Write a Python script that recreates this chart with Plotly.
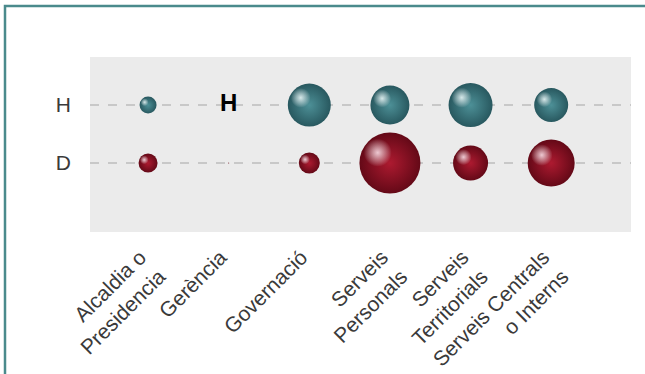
import plotly.graph_objects as go

# categories and values
categories = ['Alcaldia o<br>Presidencia', 'Gerència', 'Governació',
              'Serveis<br>Personals', 'Serveis<br>Territorials',
              'Serveis Centrals<br>o Interns']
rows = ['D', 'H']
size_h = [17, 0, 43, 39, 44, 34]
size_d = [19, 1, 21, 61, 35, 47]
label_h = ['', '<b>H</b>', '', '', '', '']

# figure geometry
W, H = 645, 374
ml, mr, mt, mb = 90, 14, 57, 142
xr = [-0.72, 5.99]
yr = [-1.19, 1.83]
px_x = (W - ml - mr) / (xr[1] - xr[0])
px_y = (H - mt - mb) / (yr[1] - yr[0])

teal = dict(edge='#28585f', body='#4d9097', hi='rgba(240,252,252,0.85)')
red = dict(edge='#640917', body='#ad1a30', hi='rgba(255,232,240,0.85)')


def sphere(xs, y, sizes, c):
    xi = list(range(len(xs)))
    base = go.Scatter(
        x=xi, y=[y] * len(xi), mode='markers', hoverinfo='skip',
        marker=dict(size=sizes, color=c['edge'], line=dict(width=0),
                    opacity=1,
                    gradient=dict(type='radial', color=c['body']))
    )
    # highlight shifted up-left, in pixels converted to axis units
    hx = [i - 0.2 * s / px_x for i, s in zip(xi, sizes)]
    hy = [y + 0.17 * s / px_y for s in sizes]
    hs = [0.46 * s for s in sizes]
    hi = go.Scatter(
        x=hx, y=hy, mode='markers', hoverinfo='skip',
        marker=dict(size=hs, color='rgba(255,255,255,0)', line=dict(width=0),
                    opacity=1,
                    gradient=dict(type='radial', color=c['hi']))
    )
    return [base, hi]


fig = go.Figure()
for t in sphere(categories, 1, size_h, teal):
    fig.add_trace(t)
for t in sphere(categories, 0, size_d, red):
    fig.add_trace(t)

fig.add_trace(go.Scatter(
    x=list(range(len(categories))), y=[1] * len(categories), mode='text',
    text=label_h, textposition='middle center', hoverinfo='skip',
    textfont=dict(family='Liberation Sans, Arial', size=24, color='#000')
))

fig.update_layout(
    width=W, height=H,
    margin=dict(l=ml, r=mr, t=mt, b=mb),
    paper_bgcolor='white', plot_bgcolor='#ebebeb',
    showlegend=False,
    font=dict(family='Liberation Sans, Arial', size=21, color='#3a3a3a'),
    shapes=[dict(type='rect', xref='paper', yref='paper',
                 x0=-(ml - 5) / (W - ml - mr), x1=1.2,
                 y0=-1.5, y1=1 + (mt - 6) / (H - mt - mb),
                 line=dict(color='#4a8a8c', width=2.5), layer='below')]
)
fig.update_xaxes(
    range=xr, tickmode='array', tickvals=list(range(len(categories))),
    ticktext=categories, tickangle=-45, showgrid=False, zeroline=False,
    showline=False, ticks='', automargin=False,
    ticklabelstandoff=8, ticklabelshift=-8
)
fig.update_yaxes(
    range=yr, tickmode='array', tickvals=[0, 1], ticktext=rows,
    showgrid=True, gridcolor='#c8c8c8', griddash='dash', gridwidth=1.5,
    zeroline=False, showline=False, ticks='', ticklabelstandoff=18,
    automargin=False
)

fig.write_html('out.html', config={'displayModeBar': False},
               post_script="document.body.style.margin='0';")
